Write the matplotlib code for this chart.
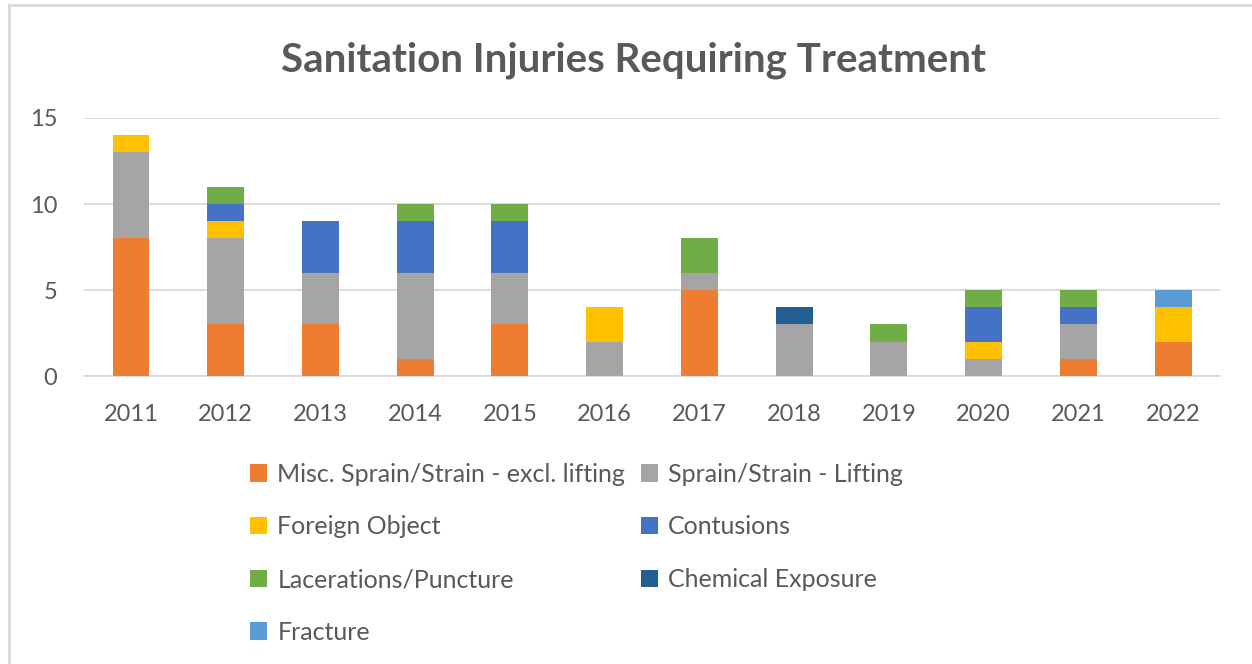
import matplotlib
matplotlib.use('Agg')
import matplotlib.pyplot as plt
import numpy as np
from matplotlib.lines import Line2D

# Dados
anos = ['2011', '2012', '2013', '2014', '2015', '2016',
        '2017', '2018', '2019', '2020', '2021', '2022']
misc_sprain = [8, 3, 3, 1, 3, 0, 5, 0, 0, 0, 1, 2]
sprain_lifting = [5, 5, 3, 5, 3, 2, 1, 3, 2, 1, 2, 0]
foreign_object = [1, 1, 0, 0, 0, 2, 0, 0, 0, 1, 0, 2]
contusions = [0, 1, 3, 3, 3, 0, 0, 0, 0, 2, 1, 0]
lacerations = [0, 1, 0, 1, 1, 0, 2, 0, 1, 1, 1, 0]
chemical = [0, 0, 0, 0, 0, 0, 0, 1, 0, 0, 0, 0]
fracture = [0, 0, 0, 0, 0, 0, 0, 0, 0, 0, 0, 1]

series = [
    ('Misc. Sprain/Strain - excl. lifting', misc_sprain, '#ED7D31'),
    ('Sprain/Strain - Lifting', sprain_lifting, '#A5A5A5'),
    ('Foreign Object', foreign_object, '#FFC000'),
    ('Contusions', contusions, '#4472C4'),
    ('Lacerations/Puncture', lacerations, '#70AD47'),
    ('Chemical Exposure', chemical, '#255E91'),
    ('Fracture', fracture, '#5B9BD5'),
]

plt.rcParams['font.family'] = ['Lato', 'DejaVu Sans']
texto = '#595959'

fig = plt.figure(figsize=(12.52, 6.64), dpi=100)
ax = fig.add_axes([0.0668, 0.4337, 0.908, 0.3886])

x = np.arange(len(anos))
base = np.zeros(len(anos))
handles = {}
for nome, valores, cor in series:
    v = np.array(valores, dtype=float)
    b = ax.bar(x, v, bottom=base, width=0.39, color=cor, label=nome, zorder=3)
    handles[nome] = b
    base += v

ax.set_xlim(-0.5, len(anos) - 0.5)
ax.set_ylim(0, 15)
ax.set_yticks([0, 5, 10, 15])
ax.set_xticks(x)
ax.set_xticklabels(anos)
ax.tick_params(axis='both', length=0, labelsize=17, colors=texto)
ax.tick_params(axis='x', pad=20)
ax.tick_params(axis='y', pad=19)
ax.grid(axis='y', color='#D9D9D9', linewidth=1.3, zorder=0)
for lado in ['top', 'right', 'left']:
    ax.spines[lado].set_visible(False)
ax.spines['bottom'].set_color('#D9D9D9')
ax.spines['bottom'].set_linewidth(1.3)

fig.text(0.5056, 0.91, 'Sanitation Injuries Requiring Treatment', ha='center',
         va='center', fontsize=29, fontweight='bold', color=texto)

# Legenda em duas colunas (preenchida por coluna)
ordem = [0, 2, 4, 6, 1, 3, 5]
nomes = [series[i][0] for i in ordem]
leg = fig.legend([handles[n] for n in nomes], nomes, ncol=2,
                 loc='upper left', bbox_to_anchor=(0.1817, 0.337),
                 frameon=False, fontsize=18, labelcolor=texto,
                 handlelength=0.7, handleheight=0.7, handletextpad=0.4,
                 columnspacing=0.62, labelspacing=1.19)

# Moldura cinza (só topo e esquerda, como na imagem original)
fig.add_artist(Line2D([0.0072, 1.0], [0.9925, 0.9925], transform=fig.transFigure,
                      color='#D9D9D9', linewidth=2))
fig.add_artist(Line2D([0.0072, 0.0072], [0.0, 0.9925], transform=fig.transFigure,
                      color='#D9D9D9', linewidth=2))

plt.savefig('out.png', dpi=100)
plt.close()
